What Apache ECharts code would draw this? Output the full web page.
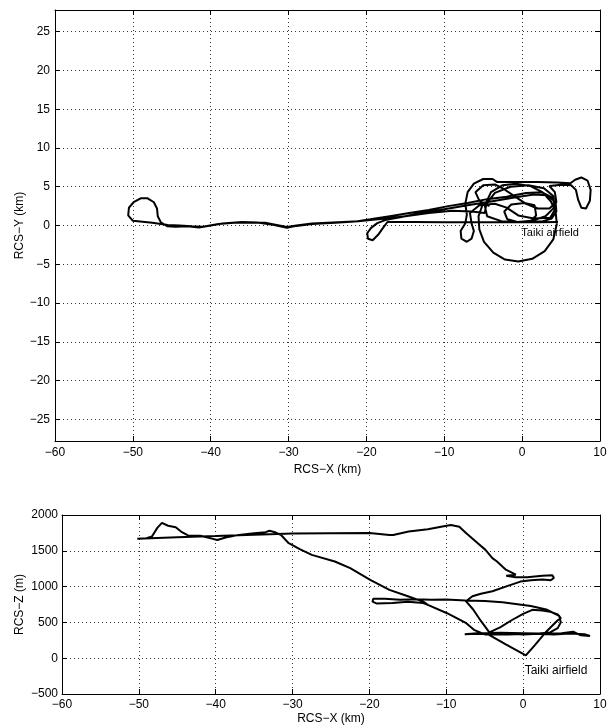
<!DOCTYPE html>
<html>
<head>
<meta charset="utf-8">
<script src="https://cdn.jsdelivr.net/npm/echarts@6/dist/echarts.min.js"></script>
<style>html,body{margin:0;padding:0;background:#fff}#c{width:610px;height:727px}</style>
</head>
<body>
<div id="c"></div>
<script>
// Plan view track: [RCS-X km, RCS-Y km]
const topTrack = [
  [4.6,0.45],[2.0,0.42],[-2.0,0.42],[-6.0,0.42],[-10.0,0.43],[-14.0,0.44],[-17.3,0.45],
  [-17.8,-0.2],[-18.5,-1.2],[-19.2,-1.9],[-19.8,-1.7],[-19.9,-1.0],[-19.4,-0.3],[-18.6,0.3],[-17.6,0.7],
  [-15.5,1.1],[-13,1.6],[-10,2.1],[-7,2.6],[-4,3.1],[-1,3.6],[1.5,4.0],[3.2,3.9],[4.3,3.0],[4.4,1.8],[3.8,0.9],[2.5,0.5],[1.0,0.5],
  [1.8,1.3],[1.6,2.6],[0.3,2.9],[-1.4,2.7],[-2.3,1.8],[-1.9,0.8],[-0.6,0.45],[1.2,0.6],[3.0,1.2],[4.2,2.4],[4.0,3.8],[2.8,4.8],[0.8,5.2],[-1.5,5.0],[-3.5,4.2],[-4.6,2.8],[-4.8,1.6],
  [-6.5,1.8],[-9,1.9],[-12,1.6],[-15,1.2],[-17.5,0.9],[-19.5,0.7],
  [-21,0.55],[-23,0.45],[-25,0.35],[-27,0.25],[-29,0.0],[-30.2,-0.2],[-31.2,0.0],[-33,0.35],[-35,0.4],[-37,0.35],[-39,0.2],[-41.0,-0.15],[-42.5,-0.1],[-44,0.0],[-45.5,0.05],[-47.5,0.35],[-50.0,0.6],
  [-50.6,1.3],[-50.5,2.3],[-49.9,3.0],[-49.0,3.5],[-48.1,3.5],[-47.3,3.0],[-46.9,2.2],[-46.8,1.2],[-46.4,0.4],[-45.6,-0.1],[-44.5,-0.15],[-43,-0.1],[-41.5,-0.25],[-40,0.0],[-38.5,0.25],[-36,0.45],[-34,0.4],[-32,0.1],[-30.2,-0.3],[-29,-0.05],[-27,0.2],[-24,0.35],[-21.5,0.5],[-19.5,0.8],
  [-17,1.2],[-14.5,1.6],[-12,2.0],[-9.5,2.5],[-7,2.9],[-4.5,3.4],[-2,3.7],
  [0.5,4.2],[2.5,4.3],[3.9,3.6],[4.3,2.2],[3.6,1.0],[1.5,0.9],[-0.5,1.3],[-2.0,2.3],[-3.5,2.8],[-5.5,2.6],[-6.7,1.6],[-6.5,0.3],[-6.2,-0.7],[-6.5,-1.7],[-7.1,-2.1],[-7.8,-1.7],[-7.9,-0.7],[-7.3,0.3],[-7.1,1.4],[-7.3,2.8],[-7.0,4.3],[-6.2,5.4],[-5.0,6.0],[-3.8,6.0],[-3.2,5.6],
  [-1.0,5.6],[2.0,5.6],[4.5,5.55],[6.2,5.45],
  [6.8,5.9],[7.6,6.2],[8.4,5.8],[8.8,4.6],[8.7,3.2],[8.2,2.2],[7.6,2.3],[7.2,3.3],[6.9,4.6],[6.3,5.2],[5.0,5.25],[3.5,5.1],
  [4.2,4.3],[4.4,3.0],[3.5,2.2],[2.0,2.2],[0.5,2.8],[-1.0,3.8],[-2.5,4.8],[-3.5,5.3],[-5.0,5.2],[-6.0,4.3],[-5.5,3.2],[-4.2,2.5],
  [-5.0,2.9],[-5.6,1.2],[-5.5,-0.5],[-4.9,-2.1],[-3.7,-3.5],[-2.2,-4.4],[-0.5,-4.65],[1.3,-4.3],[2.9,-3.3],[4.0,-1.8],[4.45,0.2],[4.3,1.8],[3.7,3.1],[2.6,4.3],[1.0,5.1],[-0.8,5.4],[-2.5,5.2],[-4.0,4.3],
  [-4.8,2.6],[-4.5,1.2],[-2.5,0.5],[0.5,0.45],[2.5,0.45]
];

// Side view track: [RCS-X km, RCS-Z m]
const sideTrack = [
  [-4.6,335],[-2.2,190],[0.35,40],[1.5,180],[3.0,370],[4.5,530],[4.9,560],
  [4.5,610],[3.5,650],[2.5,665],[1.2,675],[0,620],[-1.5,530],[-3,430],[-4.4,360],
  [-5.5,520],[-6.5,680],[-7.45,796],[-6.6,865],[-5.5,900],[-4,935],[-2,1010],[-0.35,1070],
  [1,1090],[2.5,1100],[3.6,1090],[4.0,1120],[3.8,1160],[2.5,1150],[1.5,1140],[0.5,1130],[-1,1130],[-2.2,1150],
  [-0.95,1167],[-2.25,1236],[-3.4,1350],[-4.0,1398],[-4.9,1513],[-5.9,1606],[-7.4,1746],[-8.3,1837],[-9.4,1861],[-10.5,1840],[-12.4,1802],[-14.9,1769],[-16.9,1722],[-17.4,1722],[-20,1750],[-25,1745],[-30,1740],[-33,1730],[-36,1720],[-40,1705],[-45,1690],[-50.2,1670],
  [-49,1675],[-48.3,1700],[-47.6,1820],[-47,1890],[-46.2,1850],[-45.2,1830],[-44.4,1760],[-43.6,1715],[-42,1710],[-40.5,1670],[-39.8,1650],[-38.6,1690],[-37,1720],[-35,1745],[-33.5,1760],[-33,1780],[-32.3,1760],[-31.5,1720],[-30.5,1606],[-29,1520],[-27.5,1443],[-24.5,1350],[-22.5,1257],[-19.9,1094],[-17.4,955],[-14.9,861],[-13,790],[-12.4,745],[-9.9,628],[-7.4,489],[-6.4,396],[-4.9,330],
  [-3,340],[0,335],[3,345],[5,350],[6.5,370],[7.5,320],[8.7,310],[8,335],[6,345],[4,330],[2,340],[0,330],[-2,345],[-4,335],[-6,340],[-7.6,335],
  [-6,350],[-3,355],[0,350],[2,345],[3.5,360],[4.5,420],[4.9,500],[4.7,590],
  [3,680],[1,730],[-2.7,780],[-5,800],[-7.5,805],[-10,820],[-12,815],[-14,825],[-16,815],[-18,830],[-19.5,830],[-19.6,790],[-19.1,765],[-17,770],[-15,790],[-13,770],[-12.4,745],[-9.9,628],[-7.4,489],[-6.4,396],[-4.9,330],[-2,330],[1,340],[4,345]
];

const xRange = [-60, 10];
const topYRange = [-27.8, 27.8];
const zRange = [-500, 2000];
const airfieldLabel = 'Taiki airfield';
const topLabelAt = [-0.1, -1.0];
const sideLabelAt = [0.2, -180];

const FONT = "'Liberation Sans', Arial, sans-serif";
const minus = v => String(v).replace('-', '\u2212');
const tick = {show: true, inside: true, length: 5, lineStyle: {color: '#000', width: 1}};
const line = {show: true, onZero: false, lineStyle: {color: '#000', width: 1}};
const grid = {show: true, lineStyle: {color: '#000', width: 1, type: [1, 3], opacity: 0.8}};
const lab = {color: '#000', fontSize: 12, fontFamily: FONT, formatter: minus};
const nameStyle = {color: '#000', fontSize: 12, fontFamily: FONT};

function xAx(gi, pos, name, gap, margin) {
  const main = pos === 'bottom';
  return {
    type: 'value', gridIndex: gi, position: pos, min: xRange[0], max: xRange[1], interval: 10,
    axisLine: line, axisTick: tick,
    axisLabel: main ? Object.assign({margin: margin}, lab) : {show: false},
    splitLine: main ? grid : {show: false},
    name: main ? name : '', nameLocation: 'middle', nameGap: gap, nameTextStyle: nameStyle
  };
}

const chart = echarts.init(document.getElementById('c'), null, {renderer: 'canvas'});
chart.setOption({
  animation: false,
  backgroundColor: '#fff',
  grid: [
    {left: 55, top: 10, width: 545, height: 431},
    {left: 62, top: 515, width: 538, height: 179}
  ],
  xAxis: [
    xAx(0, 'bottom', 'RCS\u2212X (km)', 20, 6),
    xAx(0, 'top'),
    xAx(1, 'bottom', 'RCS\u2212X (km)', 19, 5),
    xAx(1, 'top')
  ],
  yAxis: [
    {type: 'value', gridIndex: 0, position: 'left', min: topYRange[0], max: topYRange[1],
     minInterval: 5, maxInterval: 5, splitNumber: 11,
     axisLine: line, axisTick: tick,
     axisLabel: Object.assign({margin: 5, showMinLabel: false, showMaxLabel: false}, lab),
     splitLine: grid, name: 'RCS\u2212Y (km)', nameLocation: 'middle', nameGap: 29,
     nameMoveOverlap: false, nameTextStyle: nameStyle},
    {type: 'value', gridIndex: 0, position: 'right', min: topYRange[0], max: topYRange[1],
     minInterval: 5, maxInterval: 5, splitNumber: 11,
     axisLine: line, axisTick: tick, axisLabel: {show: false}, splitLine: {show: false}},
    {type: 'value', gridIndex: 1, position: 'left', min: zRange[0], max: zRange[1], interval: 500,
     axisLine: line, axisTick: tick, axisLabel: Object.assign({margin: 4}, lab),
     splitLine: grid, name: 'RCS\u2212Z (m)', nameLocation: 'middle', nameGap: 36,
     nameMoveOverlap: false, nameTextStyle: nameStyle},
    {type: 'value', gridIndex: 1, position: 'right', min: zRange[0], max: zRange[1], interval: 500,
     axisLine: line, axisTick: tick, axisLabel: {show: false}, splitLine: {show: false}}
  ],
  series: [
    {type: 'line', xAxisIndex: 0, yAxisIndex: 0, data: topTrack, symbol: 'none', smooth: false,
     lineStyle: {color: '#000', width: 2}, z: 3,
     markPoint: {symbol: 'circle', symbolSize: 0, silent: true,
       label: {show: true, position: 'right', distance: 0, formatter: airfieldLabel, color: '#000', fontSize: 11, fontFamily: FONT},
       data: [{coord: topLabelAt}]}},
    {type: 'line', xAxisIndex: 2, yAxisIndex: 2, data: sideTrack, symbol: 'none', smooth: false,
     lineStyle: {color: '#000', width: 2}, z: 3,
     markPoint: {symbol: 'circle', symbolSize: 0, silent: true,
       label: {show: true, position: 'right', distance: 0, formatter: airfieldLabel, color: '#000', fontSize: 12, fontFamily: FONT},
       data: [{coord: sideLabelAt}]}}
  ]
});
</script>
</body>
</html>
